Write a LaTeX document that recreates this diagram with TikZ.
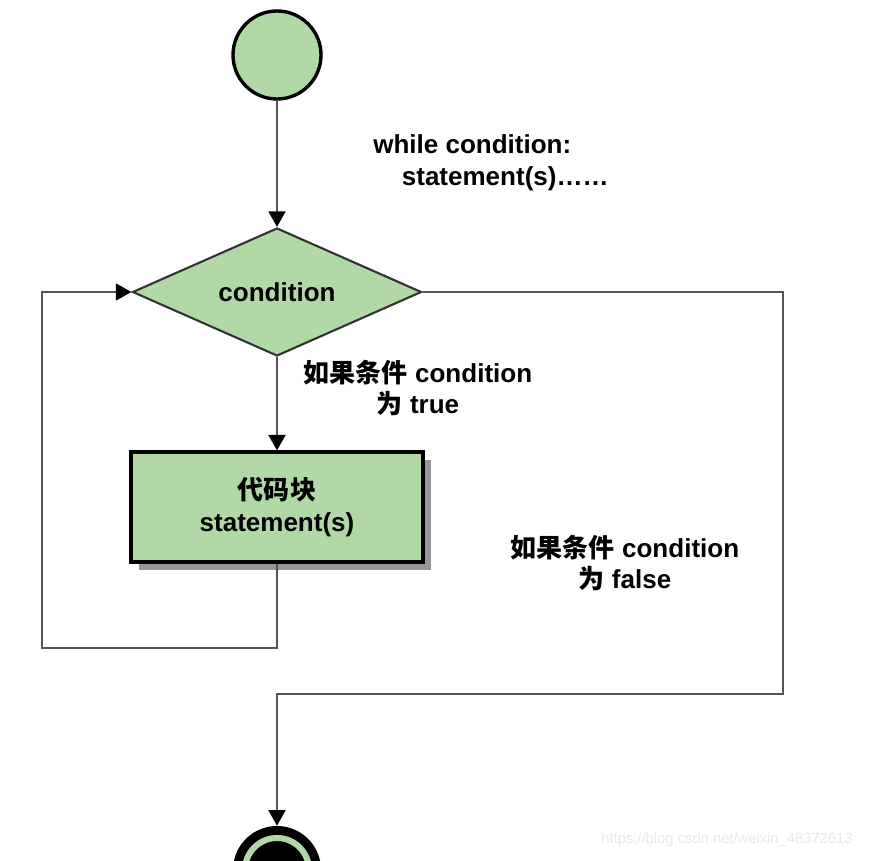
\documentclass[tikz,border=0pt]{standalone}
\usepackage{fontspec}
\setmainfont{Liberation Sans}
\newfontfamily\cjk{Noto Sans CJK SC}
\usetikzlibrary{shapes.geometric,arrows.meta,shadows}
\definecolor{flowgreen}{RGB}{178,216,168}
\definecolor{linegray}{RGB}{85,85,85}
\definecolor{shadowgray}{RGB}{150,150,150}

\begin{document}
\begin{tikzpicture}[x=0.025cm,y=-0.025cm,
	line/.style={draw=linegray,line width=1.4pt},
	arrow/.style={line,-{Triangle[length=11pt,width=12pt,color=black]}},
	label/.style={font=\fontsize{18.5}{22.5}\selectfont\bfseries,align=center,inner sep=0pt},
	]
	
	\clip (0,0) rectangle (873,860);
	
	\node[circle,draw=black,line width=2.4pt,fill=flowgreen,minimum size=2.2cm] (start) at (277,55) {};
	\node[diamond,aspect=2.24,draw=black!80,line width=1.5pt,fill=flowgreen,minimum width=7.225cm,minimum height=3.2cm,inner sep=0pt,label] (cond) at (277,292) {condition};
	\node[rectangle,draw=black,line width=2.2pt,fill=flowgreen,minimum width=7.3cm,minimum height=2.75cm,label,
		drop shadow={shadow xshift=0.2cm,shadow yshift=-0.2cm,fill=shadowgray,opacity=1}] (body) at (277,507) {{\cjk\bfseries 代码块}\\statement(s)};
	\node[circle,fill=black,minimum size=2.2cm] (stop) at (277,870) {};
	\draw[flowgreen,line width=4.3pt] (stop.center) circle[radius=0.8cm];
	
	\node[label,align=left,anchor=west] (code) at (373,163) {while condition:\\\hspace*{1.1em}statement(s)……};
	\node[label] (yes) at (418,388) {{\cjk\bfseries 如果条件} condition\\{\cjk\bfseries 为} true};
	\node[label] (no) at (625,563) {{\cjk\bfseries 如果条件} condition\\{\cjk\bfseries 为} false};
	
	\coordinate (loopa) at (277,648);
	\coordinate (loopb) at (42,648);
	\coordinate (loopc) at (42,292);
	\coordinate (outa) at (783,292);
	\coordinate (outb) at (783,694);
	\coordinate (outc) at (277,694);
	
	\draw[arrow] (start) -- (cond);
	\draw[arrow] (cond) -- (body);
	\draw[arrow] (body) -- (loopa) -- (loopb) -- (loopc) -- (cond);
	\draw[arrow] (cond) -- (outa) -- (outb) -- (outc) -- (stop);
	
	\node[font=\fontsize{10.5}{12}\selectfont,text=black!9] (mark) at (727,840) {https://blog.csdn.net/weixin\_48372613};
	
\end{tikzpicture}
\end{document}
